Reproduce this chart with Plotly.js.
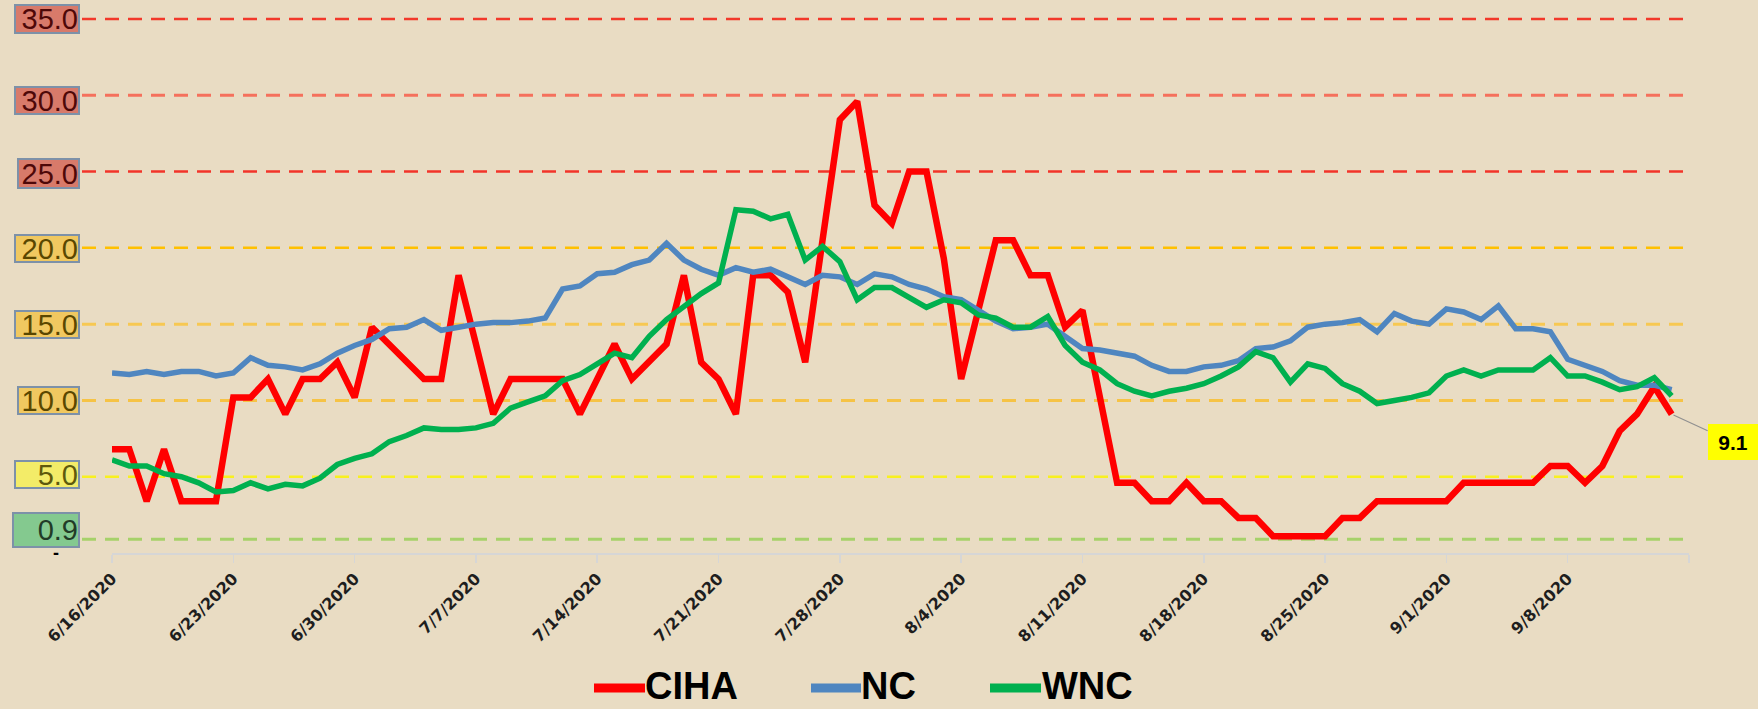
<!DOCTYPE html>
<html>
<head>
<meta charset="utf-8">
<script src="https://cdn.plot.ly/plotly-3.0.1.min.js"></script>
<style>
  html, body { margin: 0; padding: 0; background: #e9dcc3; }
  #chart { width: 1758px; height: 709px; }
</style>
</head>
<body>
<div id="chart"></div>
<script>
// ---------------- DATA ----------------
const dates = [
  '2020-06-16','2020-06-17','2020-06-18','2020-06-19','2020-06-20','2020-06-21','2020-06-22','2020-06-23','2020-06-24','2020-06-25',
  '2020-06-26','2020-06-27','2020-06-28','2020-06-29','2020-06-30','2020-07-01','2020-07-02','2020-07-03','2020-07-04','2020-07-05',
  '2020-07-06','2020-07-07','2020-07-08','2020-07-09','2020-07-10','2020-07-11','2020-07-12','2020-07-13','2020-07-14','2020-07-15',
  '2020-07-16','2020-07-17','2020-07-18','2020-07-19','2020-07-20','2020-07-21','2020-07-22','2020-07-23','2020-07-24','2020-07-25',
  '2020-07-26','2020-07-27','2020-07-28','2020-07-29','2020-07-30','2020-07-31','2020-08-01','2020-08-02','2020-08-03','2020-08-04',
  '2020-08-05','2020-08-06','2020-08-07','2020-08-08','2020-08-09','2020-08-10','2020-08-11','2020-08-12','2020-08-13','2020-08-14',
  '2020-08-15','2020-08-16','2020-08-17','2020-08-18','2020-08-19','2020-08-20','2020-08-21','2020-08-22','2020-08-23','2020-08-24',
  '2020-08-25','2020-08-26','2020-08-27','2020-08-28','2020-08-29','2020-08-30','2020-08-31','2020-09-01','2020-09-02','2020-09-03',
  '2020-09-04','2020-09-05','2020-09-06','2020-09-07','2020-09-08','2020-09-09','2020-09-10','2020-09-11','2020-09-12','2020-09-13',
  '2020-09-14'
];

const ciha = [
  6.8, 6.8, 3.4, 6.8, 3.4, 3.4, 3.4, 10.2, 10.2, 11.4,
  9.1, 11.4, 11.4, 12.5, 10.2, 14.8, 13.7, 12.5, 11.4, 11.4,
  18.2, 13.7, 9.1, 11.4, 11.4, 11.4, 11.4, 9.1, 11.4, 13.7,
  11.4, 12.5, 13.7, 18.2, 12.5, 11.4, 9.1, 18.2, 18.2, 17.1,
  12.5, 20.5, 28.4, 29.6, 22.8, 21.6, 25.0, 25.0, 19.3, 11.4,
  15.9, 20.5, 20.5, 18.2, 18.2, 14.8, 15.9, 10.2, 4.6, 4.6,
  3.4, 3.4, 4.6, 3.4, 3.4, 2.3, 2.3, 1.1, 1.1, 1.1,
  1.1, 2.3, 2.3, 3.4, 3.4, 3.4, 3.4, 3.4, 4.6, 4.6,
  4.6, 4.6, 4.6, 5.7, 5.7, 4.6, 5.7, 8.0, 9.1, 10.9,
  9.1
];

const nc = [
  11.8, 11.7, 11.9, 11.7, 11.9, 11.9, 11.6, 11.8, 12.8, 12.3,
  12.2, 12.0, 12.4, 13.1, 13.6, 14.0, 14.7, 14.8, 15.3, 14.6,
  14.8, 15.0, 15.1, 15.1, 15.2, 15.4, 17.3, 17.5, 18.3, 18.4,
  18.9, 19.2, 20.3, 19.2, 18.6, 18.2, 18.7, 18.4, 18.6, 18.1,
  17.6, 18.2, 18.1, 17.6, 18.3, 18.1, 17.6, 17.3, 16.8, 16.6,
  15.9, 15.2, 14.7, 14.8, 15.0, 14.2, 13.4, 13.3, 13.1, 12.9,
  12.3, 11.9, 11.9, 12.2, 12.3, 12.6, 13.4, 13.5, 13.9, 14.8,
  15.0, 15.1, 15.3, 14.5, 15.7, 15.2, 15.0, 16.0, 15.8, 15.3,
  16.2, 14.7, 14.7, 14.5, 12.7, 12.3, 11.9, 11.3, 11.0, 11.0,
  10.7
];

const wnc = [
  6.1, 5.7, 5.7, 5.2, 5.0, 4.6, 4.0, 4.1, 4.6, 4.2,
  4.5, 4.4, 4.9, 5.8, 6.2, 6.5, 7.3, 7.7, 8.2, 8.1,
  8.1, 8.2, 8.5, 9.5, 9.9, 10.3, 11.3, 11.7, 12.4, 13.1,
  12.8, 14.2, 15.3, 16.2, 17.0, 17.7, 22.5, 22.4, 21.9, 22.2,
  19.2, 20.1, 19.1, 16.6, 17.4, 17.4, 16.8, 16.1, 16.6, 16.4,
  15.6, 15.4, 14.8, 14.8, 15.5, 13.6, 12.5, 12.0, 11.1, 10.6,
  10.3, 10.6, 10.8, 11.1, 11.6, 12.2, 13.2, 12.8, 11.2, 12.4,
  12.1, 11.1, 10.6, 9.8, 10.0, 10.2, 10.5, 11.6, 12.0, 11.6,
  12.0, 12.0, 12.0, 12.8, 11.6, 11.6, 11.2, 10.7, 10.9, 11.5,
  10.3
];

const seriesNames = ['CIHA', 'NC', 'WNC'];

const tickDates = ['2020-06-16','2020-06-23','2020-06-30','2020-07-07','2020-07-14','2020-07-21','2020-07-28',
                   '2020-08-04','2020-08-11','2020-08-18','2020-08-25','2020-09-01','2020-09-08','2020-09-15'];
const tickLabels = ['6/16/2020','6/23/2020','6/30/2020','7/7/2020','7/14/2020','7/21/2020','7/28/2020',
                    '8/4/2020','8/11/2020','8/18/2020','8/25/2020','9/1/2020','9/8/2020',''];

const thresholdValues = [35, 30, 25, 20, 15, 10, 5, 0.9];
const thresholdLabels = ['35.0', '30.0', '25.0', '20.0', '15.0', '10.0', '5.0', '0.9'];

const lastValueLabel = '9.1';

// ---------------- STYLE ----------------
const W = 1758, H = 709;
const M = { l: 112, r: 69, t: 19, b: 156 };
const YMAX = 35;
const BG = '#e9dcc3';
const px2x = px => (px - M.l) / (W - M.l - M.r);
const px2y = py => (H - M.b - py) / (H - M.t - M.b);

const seriesColors = ['#ff0000', '#4f86c0', '#00b04f'];
const seriesWidths = [6.5, 5.5, 5.5];

const thrLine = [
  { color: '#f2382a', width: 2.5 },
  { color: '#f5705c', width: 3 },
  { color: '#f2342a', width: 2.5 },
  { color: '#ffc000', width: 2.5 },
  { color: '#f7c852', width: 3 },
  { color: '#f6c345', width: 3 },
  { color: '#f8f020', width: 2.5 },
  { color: '#a6d16a', width: 3 }
];
const thrBox = [
  { fill: '#d87a6a', text: '#4e0808', w: 62, h: 26, shift: 0, right: 80 },
  { fill: '#d87a6a', text: '#4e0808', w: 62, h: 25, shift: -5, right: 80 },
  { fill: '#d87a6a', text: '#4e0808', w: 59, h: 27, shift: -2, right: 80 },
  { fill: '#f0c860', text: '#5a4700', w: 62, h: 25, shift: -1, right: 80 },
  { fill: '#f0c860', text: '#5a4700', w: 62, h: 25, shift: 0, right: 80 },
  { fill: '#f0c860', text: '#5a4700', w: 59, h: 25, shift: 0, right: 80 },
  { fill: '#f3ec68', text: '#5e5a0c', w: 62, h: 25, shift: 2, right: 80 },
  { fill: '#84c98f', text: '#223b27', w: 64, h: 32, shift: 9, right: 80 }
];

// ---------------- TRACES ----------------
const seriesData = [ciha, nc, wnc];
const traces = seriesData.map((ys, i) => ({
  type: 'scatter',
  mode: 'lines',
  x: dates,
  y: ys,
  name: seriesNames[i],
  line: { color: seriesColors[i], width: seriesWidths[i] },
  hoverinfo: 'skip',
  showlegend: false
}));

// ---------------- SHAPES & ANNOTATIONS ----------------
const shapes = [];
const annotations = [];

thresholdValues.forEach((v, i) => {
  shapes.push({
    type: 'line', layer: 'below',
    xref: 'paper', yref: 'paper',
    x0: px2x(82), x1: px2x(1692),
    y0: v / YMAX, y1: v / YMAX,
    line: { color: thrLine[i].color, width: thrLine[i].width, dash: '14px,9px' }
  });
  annotations.push({
    xref: 'paper', yref: 'y',
    x: px2x(thrBox[i].right), xanchor: 'right',
    y: v, yanchor: 'middle', yshift: thrBox[i].shift,
    text: thresholdLabels[i],
    showarrow: false,
    align: 'right',
    width: thrBox[i].w, height: thrBox[i].h,
    bgcolor: thrBox[i].fill,
    bordercolor: '#7d91a8', borderwidth: 2, borderpad: 0,
    font: { family: 'Liberation Sans, Arial, sans-serif', size: 29, color: thrBox[i].text }
  });
});

// last value label (9.1) with leader line
annotations.push({
  xref: 'x', yref: 'y',
  x: dates[dates.length - 1], y: ciha[ciha.length - 1],
  text: '<b>' + lastValueLabel + '</b>',
  showarrow: true, arrowhead: 0, arrowwidth: 1.2, arrowcolor: '#909090',
  ax: 61, ay: 28, standoff: 2,
  bgcolor: '#ffff00', borderpad: 1, borderwidth: 0,
  width: 48, height: 34, align: 'center',
  font: { family: 'Liberation Sans, Arial, sans-serif', size: 21, color: '#000000' }
});

// custom legend
const legendItems = [
  { x0: 594, x1: 645, tx: 646 },
  { x0: 811, x1: 861, tx: 862 },
  { x0: 990, x1: 1041, tx: 1043 }
];
const legendLineY = 688;
const legendTextY = 686;
legendItems.forEach((it, i) => {
  shapes.push({
    type: 'line', xref: 'paper', yref: 'paper',
    x0: px2x(it.x0), x1: px2x(it.x1),
    y0: px2y(legendLineY), y1: px2y(legendLineY),
    line: { color: seriesColors[i], width: 9 }
  });
  annotations.push({
    xref: 'paper', yref: 'paper',
    x: px2x(it.tx), xanchor: 'left', xshift: -2,
    y: px2y(legendTextY), yanchor: 'middle',
    text: '<b>' + seriesNames[i] + '</b>',
    showarrow: false, borderpad: 0,
    font: { family: 'Liberation Sans, Arial, sans-serif', size: 38, color: '#000000' }
  });
});

const layout = {
  width: W, height: H,
  margin: M,
  paper_bgcolor: BG,
  plot_bgcolor: BG,
  showlegend: false,
  xaxis: {
    type: 'date',
    range: ['2020-06-16', '2020-09-15'],
    tickmode: 'array',
    tickvals: tickDates,
    ticktext: tickLabels,
    tickangle: -45,
    ticks: 'outside', ticklen: 8, tickwidth: 1.5, tickcolor: '#d6d6d6',
    showline: true, linecolor: '#d6d6d6', linewidth: 2,
    showgrid: false, zeroline: false,
    tickfont: { family: 'DejaVu Sans, sans-serif', size: 16, weight: 'bold', color: '#1e1e1e' }
  },
  yaxis: {
    range: [0, YMAX],
    showgrid: false, zeroline: false, showline: false,
    tickmode: 'array', tickvals: [0], ticktext: ['-'],
    ticks: '', ticklabelstandoff: 52,
    tickfont: { family: 'Liberation Sans, Arial, sans-serif', size: 18, weight: 'bold', color: '#000000' }
  },
  shapes: shapes,
  annotations: annotations
};

Plotly.newPlot('chart', traces, layout, { displayModeBar: false, staticPlot: true });
</script>
</body>
</html>
